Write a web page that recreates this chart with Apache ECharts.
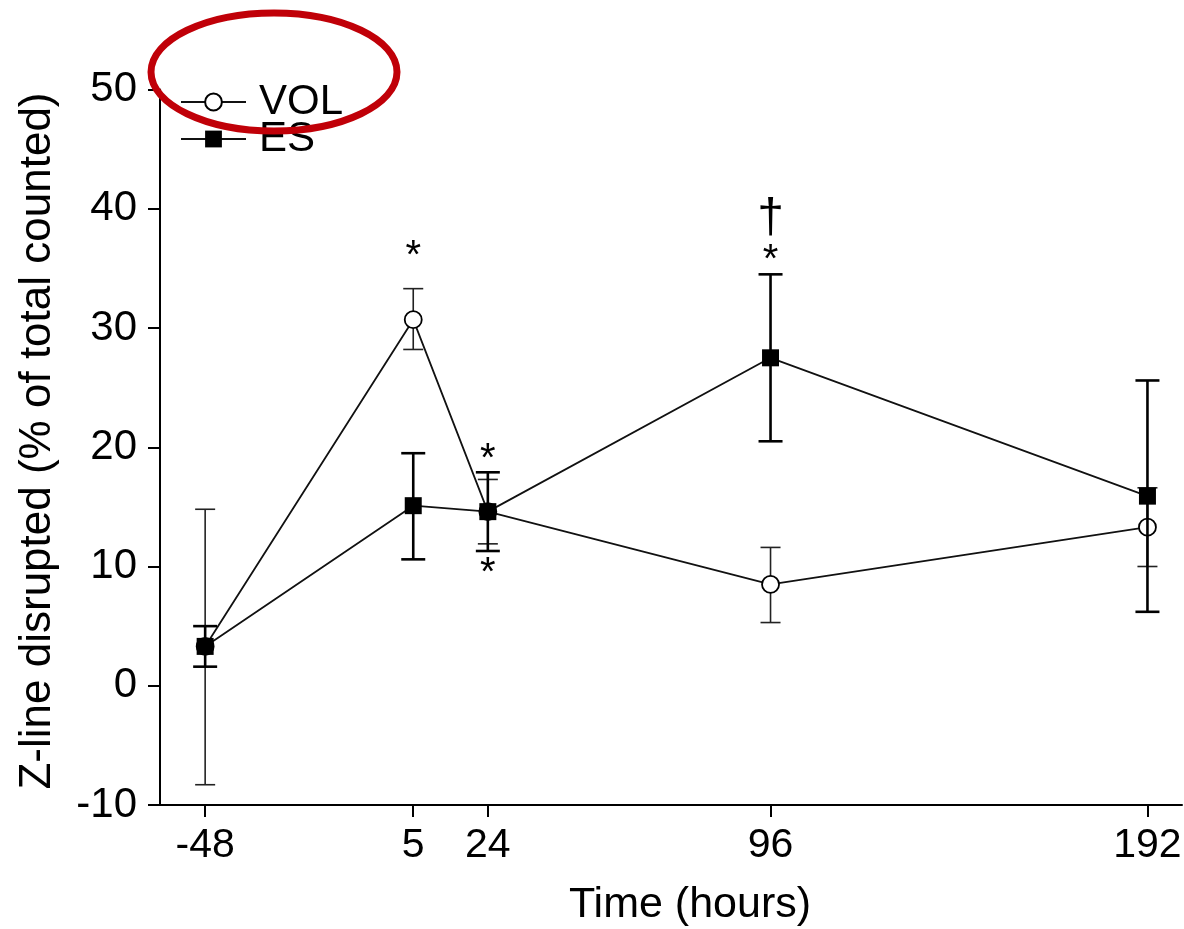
<!DOCTYPE html>
<html>
<head>
<meta charset="utf-8">
<script src="https://cdn.jsdelivr.net/npm/echarts@6/dist/echarts.min.js"></script>
<style>
  html, body { margin: 0; padding: 0; background: #fff; }
  #chart { width: 1184px; height: 929px; }
</style>
</head>
<body>
<div id="chart"></div>
<script>
// Sampling times (hours relative to the exercise bout)
const hours = [-48, 5, 24, 96, 192];

// VOL group: mean and error-bar limits (% of total counted)
const volMean = [3.3, 30.7, 14.6, 8.5, 13.3];
const volLow  = [-8.3, 28.2, 11.9, 5.3, 10.0];
const volHigh = [14.8, 33.3, 17.3, 11.6, 16.6];

// ES group: mean and error-bar limits
const esMean = [3.3, 15.1, 14.6, 27.5, 15.9];
const esLow  = [1.6, 10.6, 11.3, 20.5, 6.2];
const esHigh = [5.0, 19.5, 17.9, 34.5, 25.6];

// Tick labels shown on the time axis
const hourTicks = [-48, 5, 24, 96, 192];

// Significance marks: time, vertical position, symbol
const markX    = [5, 24, 24, 96, 96];
const markY    = [36.7, 19.7, 10.1, 36.4, 39.3];
const markText = ['*', '*', '*', '*', '\u2020'];

const FONT = "'Liberation Sans', Arial, Helvetica, sans-serif";

const zip = (xs, ...cols) => xs.map((x, i) => [x, ...cols.map(c => c[i])]);

function errorBarRenderer(color, width, cap) {
  return function (params, api) {
    const x = api.value(0);
    const lo = api.coord([x, api.value(1)]);
    const hi = api.coord([x, api.value(2)]);
    const h = cap / 2;
    const style = { stroke: color, lineWidth: width };
    return {
      type: 'group',
      children: [
        { type: 'line', shape: { x1: lo[0], y1: lo[1], x2: hi[0], y2: hi[1] }, style },
        { type: 'line', shape: { x1: lo[0] - h, y1: lo[1], x2: lo[0] + h, y2: lo[1] }, style },
        { type: 'line', shape: { x1: hi[0] - h, y1: hi[1], x2: hi[0] + h, y2: hi[1] }, style }
      ]
    };
  };
}

const chart = echarts.init(document.getElementById('chart'));

chart.setOption({
  animation: false,
  backgroundColor: '#fff',
  grid: { left: 160, right: 2, top: 89.5, bottom: 124, outerBoundsMode: 'none' },
  xAxis: {
    type: 'value',
    min: -59.5,
    max: 200.8,
    axisLine: { show: true, onZero: false, lineStyle: { color: '#000', width: 2 } },
    axisTick: { show: true, customValues: hourTicks, length: 12, lineStyle: { color: '#000', width: 2 } },
    axisLabel: { customValues: hourTicks, margin: 20, fontSize: 41, fontFamily: FONT, color: '#000' },
    splitLine: { show: false }
  },
  yAxis: {
    type: 'value',
    min: -10,
    max: 50,
    interval: 10,
    axisLine: { show: true, onZero: false, lineStyle: { color: '#000', width: 2 } },
    axisTick: { show: true, length: 12, lineStyle: { color: '#000', width: 2 } },
    axisLabel: { margin: 23, fontSize: 42, fontFamily: FONT, color: '#000' },
    splitLine: { show: false }
  },
  legend: {
    data: ['VOL', 'ES'],
    orient: 'vertical',
    left: 175,
    top: 76,
    itemWidth: 65,
    itemHeight: 21,
    itemGap: -5,
    selectedMode: false,
    textStyle: { fontSize: 42, fontFamily: FONT, color: '#000', padding: [0, 0, 0, 8] }
  },
  series: [
    {
      name: 'VOL error',
      type: 'custom',
      z: 1,
      silent: true,
      renderItem: errorBarRenderer('#222', 1.6, 20),
      encode: { x: 0, y: [1, 2] },
      data: zip(hours, volLow, volHigh)
    },
    {
      name: 'VOL',
      type: 'line',
      z: 2,
      data: zip(hours, volMean),
      symbol: 'circle',
      symbolSize: 17,
      itemStyle: { color: '#fff', borderColor: '#000', borderWidth: 1.8 },
      lineStyle: { color: '#111', width: 1.8 },
      emphasis: { disabled: true }
    },
    {
      name: 'ES error',
      type: 'custom',
      z: 3,
      silent: true,
      renderItem: errorBarRenderer('#000', 2.6, 24),
      encode: { x: 0, y: [1, 2] },
      data: zip(hours, esLow, esHigh)
    },
    {
      name: 'ES',
      type: 'line',
      z: 4,
      data: zip(hours, esMean),
      symbol: 'rect',
      symbolSize: 17,
      itemStyle: { color: '#000' },
      lineStyle: { color: '#111', width: 1.8 },
      emphasis: { disabled: true }
    },
    {
      name: 'marks',
      type: 'custom',
      z: 5,
      silent: true,
      encode: { x: 0, y: 1 },
      data: zip(markX, markY),
      renderItem: function (params, api) {
        const p = api.coord([api.value(0), api.value(1)]);
        const t = markText[params.dataIndex];
        const size = t === '*' ? 40 : 48;
        const shift = t === '*' ? size * 0.22 : 2;
        return {
          type: 'text',
          x: p[0],
          y: p[1] + shift,
          style: { text: t, fontSize: size, fontFamily: FONT, fill: '#000', align: 'center', verticalAlign: 'middle' }
        };
      }
    }
  ],
  graphic: [
    {
      type: 'text',
      x: 38,
      y: 441,
      rotation: Math.PI / 2,
      style: {
        text: 'Z-line disrupted (% of total counted)',
        fontSize: 44,
        fontFamily: FONT,
        fill: '#000',
        align: 'center',
        verticalAlign: 'middle'
      }
    },
    {
      type: 'text',
      x: 690,
      y: 905,
      style: {
        text: 'Time (hours)',
        fontSize: 43,
        fontFamily: FONT,
        fill: '#000',
        align: 'center',
        verticalAlign: 'middle'
      }
    },
    {
      type: 'ellipse',
      z: 100,
      shape: { cx: 274, cy: 72, rx: 123, ry: 59 },
      style: { fill: 'none', stroke: '#c00008', lineWidth: 7 }
    }
  ]
});
</script>
</body>
</html>
